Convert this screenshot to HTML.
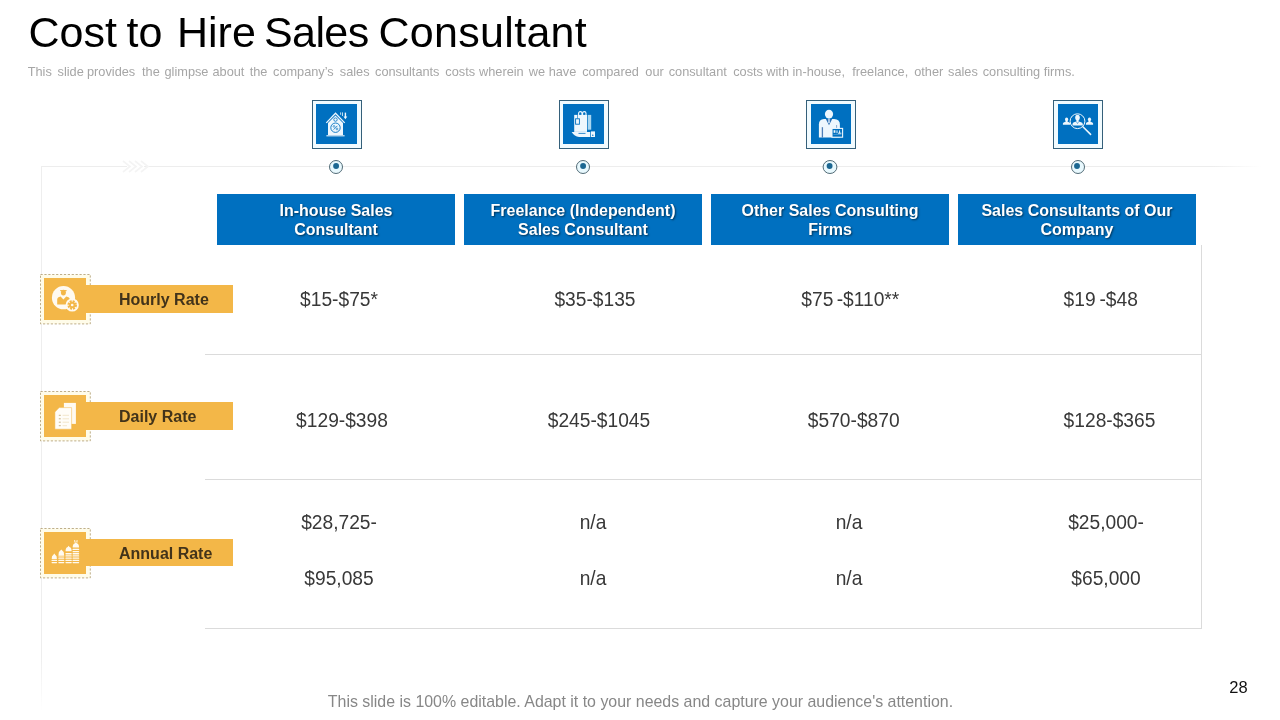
<!DOCTYPE html>
<html lang="en">
<head>
<meta charset="utf-8">
<title>Cost to Hire Sales Consultant</title>
<style>
html,body{margin:0;padding:0;}
body{width:1280px;height:720px;position:relative;overflow:hidden;background:#fff;font-family:"Liberation Sans",Arial,sans-serif;}
.abs{position:absolute;}
#title{left:28.5px;top:7.5px;font-size:43px;line-height:48px;color:#000;white-space:nowrap;}
#title span{position:absolute;top:0;white-space:pre;}
#sub{left:28px;top:64px;font-size:12.75px;line-height:16px;color:#a6a6a6;white-space:nowrap;}
#sub span{position:absolute;top:0;white-space:pre;}
.hl{background:#dbdbdb;height:1px;}
.vl{background:#dbdbdb;width:1px;}
.hdr{top:194px;width:238px;height:51px;padding-top:1px;box-sizing:border-box;background:#0070c0;color:#fff;font-weight:bold;font-size:16px;line-height:19px;text-align:center;display:flex;align-items:center;justify-content:center;text-shadow:1px 1px 2px rgba(0,0,0,.55);}
.ibox{top:100px;width:48px;height:47px;border:1px solid #35607a;background:#f1fbff;}
.ibox svg{position:absolute;left:3px;top:3px;width:41px;height:40px;background:#0070c0;display:block;}
.ibox.b svg{left:4px;width:40px;}
.dot{top:159px;width:13px;height:13px;border:1px solid #2d5f86;border-radius:50%;background:#fff;}
.dot i{position:absolute;left:3px;top:3px;width:7px;height:7px;border-radius:50%;background:#1a6aa8;display:block;}
.val{font-size:19.2px;line-height:22px;color:#383838;white-space:nowrap;transform:translateX(-50%) scaleY(1.035);transform-origin:50% 0;}
.lab{left:86px;width:146.7px;height:27.5px;background:#f3b748;}
.labt{font-weight:bold;font-size:16px;line-height:29px;color:#42331a;white-space:nowrap;}
.sq{left:44px;width:42px;height:42px;background:#f3b748;}
.sq svg{display:block;width:42px;height:42px;}
.dash{left:40px;}
#foot{left:327.8px;top:691.5px;font-size:15.93px;line-height:20px;color:#878787;white-space:nowrap;}
#pn{left:1229.3px;top:677px;font-size:16.5px;line-height:20px;color:#111;}
</style>
</head>
<body>
<div id="title" class="abs"><span style="left:0">Cost </span><span style="left:98px">to </span><span style="left:148.5px">Hire </span><span style="left:235.5px;letter-spacing:-0.6px">Sales </span><span style="left:350px;letter-spacing:0.3px">Consultant</span></div>
<div id="sub" class="abs"><span style="left:-0.3px">This </span><span style="left:29.5px">slide </span><span style="left:59.0px">provides </span><span style="left:114.0px">the </span><span style="left:136.5px">glimpse </span><span style="left:184.5px">about </span><span style="left:221.7px">the </span><span style="left:245.0px">company’s </span><span style="left:311.8px">sales </span><span style="left:347.0px">consultants </span><span style="left:417.3px">costs </span><span style="left:451.0px">wherein </span><span style="left:500.7px">we </span><span style="left:520.7px">have </span><span style="left:554.2px">compared </span><span style="left:617.3px">our </span><span style="left:640.7px">consultant </span><span style="left:705.2px">costs </span><span style="left:738.3px">with </span><span style="left:764.5px">in-house, </span><span style="left:824.2px">freelance, </span><span style="left:886.2px">other </span><span style="left:920.0px">sales </span><span style="left:954.7px">consulting </span><span style="left:1015.7px">firms. </span></div>

<!-- frame lines -->
<div class="abs hl" style="left:41px;top:166px;width:1220px;background:linear-gradient(to right,#ededed 0,#ededed 96%,#fff 100%);"></div>
<div class="abs vl" style="left:41px;top:166px;height:545px;background:linear-gradient(to bottom,#eee 0,#eee 90%,#fff 100%);"></div>
<div class="abs hl" style="left:205px;top:354px;width:997px;"></div>
<div class="abs hl" style="left:205px;top:479px;width:997px;"></div>
<div class="abs hl" style="left:205px;top:628px;width:997px;"></div>
<div class="abs vl" style="left:1201px;top:245px;height:384px;"></div>

<svg class="abs" style="left:120px;top:158px;" width="34" height="18" viewBox="0 0 34 18"><rect x="7" y="7" width="17" height="3" fill="#fff"/><path d="M3 3L10 8.5L3 14M9 3L16 8.5L9 14M15 3L22 8.5L15 14M21 3L28 8.5L21 14" fill="none" stroke="#f4f4f4" stroke-width="1.6"/></svg>
<!-- icon boxes -->
<div class="abs ibox" style="left:312px;"><svg viewBox="0 0 41 40">
<path d="M12 19V31H27V19L19.5 11.4Z" fill="#eef7fd"/>
<path d="M10.3 18.9L19.5 9.3L28.7 18.9" fill="none" stroke="#eef7fd" stroke-width="1.3"/>
<path d="M10.4 31.8H28.6" stroke="#eef7fd" stroke-width="1.1"/>
<circle cx="19.5" cy="23.7" r="4.7" fill="none" stroke="#0070c0" stroke-width="0.9"/>
<path d="M17.6 25.6L21.4 21.8" stroke="#0070c0" stroke-width="0.8"/>
<circle cx="18" cy="22.4" r="0.9" fill="none" stroke="#0070c0" stroke-width="0.6"/>
<circle cx="21" cy="25" r="0.9" fill="none" stroke="#0070c0" stroke-width="0.6"/>
<circle cx="19.5" cy="15.6" r="1.7" fill="none" stroke="#0070c0" stroke-width="0.8"/>
<path d="M29.4 8.6V13.2" stroke="#eef7fd" stroke-width="1.4"/>
<path d="M27.5 12.4H31.3L29.4 15.2Z" fill="#eef7fd"/>
<path d="M24.6 8.4V10.8M26.5 8.4V12" stroke="#eef7fd" stroke-width="0.8"/>
</svg></div>
<div class="abs ibox" style="left:559px;"><svg viewBox="0 0 41 40">
<rect x="11.2" y="10.9" width="12.8" height="17" fill="#eef7fd"/>
<rect x="24.7" y="10.9" width="3.5" height="14.8" fill="#a9d6f0"/>
<path d="M15.6 10.9V9.3a1.7 1.7 0 0 1 3.4 0V10.9M19.6 10.9V9.3a1.7 1.7 0 0 1 3.4 0V10.9" fill="none" stroke="#eef7fd" stroke-width="1.1"/>
<path d="M14.5 11V14.8" stroke="#0070c0" stroke-width="0.6"/>
<rect x="12.6" y="14.8" width="3.8" height="5.4" fill="#eef7fd" stroke="#0070c0" stroke-width="0.9"/>
<path d="M8.6 28H27.2V33H16Q11.5 32.5 8.6 28Z" fill="#eef7fd"/>
<path d="M15.5 29.4H22.5" stroke="#0070c0" stroke-width="0.8"/>
<rect x="27.9" y="27.4" width="4.1" height="5.6" fill="#eef7fd"/>
<circle cx="29.8" cy="31.2" r="0.7" fill="#0070c0"/>
</svg></div>
<div class="abs ibox b" style="left:806px;"><svg viewBox="0 0 40 40">
<ellipse cx="18" cy="10.1" rx="4.1" ry="4.3" fill="#eef7fd"/>
<path d="M7.9 33.6V20.5Q7.9 15.4 13 15.1H23.2Q28.9 15.4 28.9 20.5V33.6Z" fill="#eef7fd"/>
<path d="M14.8 14.9L18 21.2L21.2 14.9Z" fill="#2b6fb5"/>
<path d="M17.45 14.6H18.55L18.7 18.4L18 19.6L17.3 18.4Z" fill="#eef7fd"/>
<path d="M11.4 23.2V33.6" stroke="#4f7fb8" stroke-width="1.3"/>
<path d="M25.6 21V24" stroke="#5b8dc0" stroke-width="0.7"/>
<rect x="21" y="24.4" width="10.6" height="8.8" fill="#0070c0" stroke="#eef7fd" stroke-width="1.1"/>
<rect x="22.6" y="26.2" width="1.8" height="2.6" fill="#eef7fd"/>
<path d="M26 26.4V29.2M28.6 26.4V29.2M27 29.2H30.4" stroke="#eef7fd" stroke-width="1"/>
<path d="M22.4 30.6H30.4" stroke="#eef7fd" stroke-width="0.5" opacity=".6"/>
</svg></div>
<div class="abs ibox b" style="left:1053px;"><svg viewBox="0 0 40 40">
<circle cx="19.5" cy="17.2" r="7.4" fill="none" stroke="#eef7fd" stroke-width="1"/>
<path d="M24.9 22.7L32.6 30.4" stroke="#eef7fd" stroke-width="1.5" stroke-linecap="round"/>
<ellipse cx="19.5" cy="13.6" rx="2.3" ry="2.9" fill="#eef7fd"/>
<path d="M14.5 21.5V20Q14.5 18.3 16.6 18L18.4 17.6V16H20.6V17.6L22.4 18Q24.8 18.3 24.8 20V21.5Z" fill="#eef7fd"/>
<path d="M18.3 17.7L19.5 19.6L20.7 17.7" fill="none" stroke="#0070c0" stroke-width="0.5"/>
<ellipse cx="8.6" cy="15.4" rx="1.6" ry="1.8" fill="#eef7fd"/>
<path d="M4.9 20.7V19.6Q4.9 18.2 7.6 17.8V16.6H9.6V17.8Q12.2 18.2 12.2 19.6V20.7Z" fill="#eef7fd"/>
<ellipse cx="31.5" cy="15.4" rx="1.6" ry="1.8" fill="#eef7fd"/>
<path d="M27.9 20.7V19.6Q27.9 18.2 30.5 17.8V16.6H32.5V17.8Q35.1 18.2 35.1 19.6V20.7Z" fill="#eef7fd"/>
</svg></div>
<svg class="abs" style="left:326px;top:157px;" width="20" height="20" viewBox="0 0 20 20"><ellipse cx="10" cy="10" rx="6.5" ry="6.5" fill="#e9f9fe" stroke="#35515e" stroke-width="0.85"/><circle cx="10.1" cy="8.95" r="2.95" fill="#1c6792"/></svg>
<svg class="abs" style="left:572.9px;top:157px;" width="20" height="20" viewBox="0 0 20 20"><ellipse cx="10" cy="10" rx="6.5" ry="6.5" fill="#e9f9fe" stroke="#35515e" stroke-width="0.85"/><circle cx="10.1" cy="8.95" r="2.95" fill="#1c6792"/></svg>
<svg class="abs" style="left:820.4px;top:157px;" width="20" height="20" viewBox="0 0 20 20"><ellipse cx="10" cy="10" rx="6.8999999999999995" ry="6.5" fill="#e9f9fe" stroke="#35515e" stroke-width="0.85"/><circle cx="9.6" cy="8.95" r="2.95" fill="#1c6792"/></svg>
<svg class="abs" style="left:1068px;top:157px;" width="20" height="20" viewBox="0 0 20 20"><ellipse cx="10" cy="10" rx="6.5" ry="6.5" fill="#e9f9fe" stroke="#35515e" stroke-width="0.85"/><circle cx="9" cy="8.95" r="2.95" fill="#1c6792"/></svg>

<!-- headers -->
<div class="abs hdr" style="left:217px;"><span>In-house Sales<br>Consultant</span></div>
<div class="abs hdr" style="left:464px;"><span>Freelance (Independent)<br>Sales Consultant</span></div>
<div class="abs hdr" style="left:711px;"><span>Other Sales Consulting<br>Firms</span></div>
<div class="abs hdr" style="left:958px;"><span>Sales Consultants of Our<br>Company</span></div>

<!-- row labels -->
<svg class="abs dash" style="top:274px;" width="51" height="51" viewBox="0 0 51 51"><rect x="0.5" y="0.5" width="49.8" height="49.4" fill="#fffce9" stroke="#ad9a6e" stroke-width="0.8" stroke-dasharray="2.2 1.7"/></svg>
<div class="abs sq" style="top:278px;"><svg viewBox="0 0 42 42">
<circle cx="19.5" cy="19.7" r="11.6" fill="#fffaf0"/>
<ellipse cx="19.4" cy="14.6" rx="2.5" ry="2.9" fill="#f3b748"/>
<path d="M16.2 12.6H22.6" stroke="#f3b748" stroke-width="1.1"/>
<path d="M13.2 26.6V21.5Q13.2 19 16.6 18.4L19.4 21.5L22.2 18.4Q25.8 19 25.8 21.5V26.6Z" fill="#f3b748"/>
<circle cx="28.2" cy="27" r="6.6" fill="#fffaf0"/>
<circle cx="28.2" cy="27" r="3.6" fill="none" stroke="#f3b748" stroke-width="2.4" stroke-dasharray="1.9 0.93"/>
<circle cx="28.2" cy="27" r="3.2" fill="#f3b748"/>
<circle cx="28.2" cy="27" r="1.3" fill="#fffaf0"/>
</svg></div>
<div class="abs lab" style="top:285px;"></div>
<div class="abs labt" style="left:119px;top:285px;">Hourly Rate</div>

<svg class="abs dash" style="top:391px;" width="51" height="51" viewBox="0 0 51 51"><rect x="0.5" y="0.5" width="49.8" height="49.4" fill="#fffce9" stroke="#ad9a6e" stroke-width="0.8" stroke-dasharray="2.2 1.7"/></svg>
<div class="abs sq" style="top:395px;"><svg viewBox="0 0 42 42">
<rect x="19.9" y="7.9" width="12" height="21" fill="#fffaf0"/>
<path d="M15.2 12.6H27.6V34.2H10.9V17Z" fill="#fffdf8" stroke="#f3b748" stroke-width="0.5"/>
<path d="M14.8 20.3H16.8M14.8 23.8H16.8M14.8 27.2H16.8M14.8 30.7H16.8" stroke="#c9b68a" stroke-width="1"/>
<path d="M18.6 20.3H25M18.6 23.8H25M18.6 27.2H25M18.6 30.7H23" stroke="#ecdcb8" stroke-width="0.7"/>
</svg></div>
<div class="abs lab" style="top:402px;"></div>
<div class="abs labt" style="left:119px;top:402px;">Daily Rate</div>

<svg class="abs dash" style="top:528px;" width="51" height="51" viewBox="0 0 51 51"><rect x="0.5" y="0.5" width="49.8" height="49.4" fill="#fffce9" stroke="#ad9a6e" stroke-width="0.8" stroke-dasharray="2.2 1.7"/></svg>
<div class="abs sq" style="top:532px;"><svg viewBox="0 0 42 42">
<path d="M7.7 27.1Q7.5 23.7 9.4 22.8L10.3 21.6L11.2 22.8Q13.1 23.7 12.9 27.1Z" fill="#fffaf0"/><rect x="7.5" y="29.90" width="5.6" height="1.3" rx="0.6" fill="#fffaf0"/><rect x="7.5" y="27.70" width="5.6" height="1.3" rx="0.6" fill="#fffaf0"/>
<path d="M14.5 22.9Q14.3 19.5 16.4 18.6L17.3 17.4L18.2 18.6Q20.3 19.5 20.1 22.9Z" fill="#fffaf0"/><rect x="14.3" y="29.90" width="6.0" height="1.3" rx="0.6" fill="#fffaf0"/><rect x="14.3" y="27.70" width="6.0" height="1.3" rx="0.6" fill="#fffaf0"/><rect x="14.3" y="25.50" width="6.0" height="1.3" rx="0.6" fill="#fffaf0"/><rect x="14.3" y="23.30" width="6.0" height="1.3" rx="0.6" fill="#fffaf0"/>
<path d="M21.6 19.2Q21.4 15.8 23.7 14.9L24.6 13.7L25.5 14.9Q27.8 15.8 27.6 19.2Z" fill="#fffaf0"/><rect x="21.4" y="29.90" width="6.4" height="1.3" rx="0.6" fill="#fffaf0"/><rect x="21.4" y="27.70" width="6.4" height="1.3" rx="0.6" fill="#fffaf0"/><rect x="21.4" y="25.50" width="6.4" height="1.3" rx="0.6" fill="#fffaf0"/><rect x="21.4" y="23.30" width="6.4" height="1.3" rx="0.6" fill="#fffaf0"/><rect x="21.4" y="21.10" width="6.4" height="1.3" rx="0.6" fill="#fffaf0"/>
<path d="M28.7 15.5Q28.5 12.1 31.0 11.2L31.9 10.0L32.8 11.2Q35.2 12.1 35.0 15.5Z" fill="#fffaf0"/><rect x="28.5" y="29.90" width="6.7" height="1.3" rx="0.6" fill="#fffaf0"/><rect x="28.5" y="27.70" width="6.7" height="1.3" rx="0.6" fill="#fffaf0"/><rect x="28.5" y="25.50" width="6.7" height="1.3" rx="0.6" fill="#fffaf0"/><rect x="28.5" y="23.30" width="6.7" height="1.3" rx="0.6" fill="#fffaf0"/><rect x="28.5" y="21.10" width="6.7" height="1.3" rx="0.6" fill="#fffaf0"/><rect x="28.5" y="18.90" width="6.7" height="1.3" rx="0.6" fill="#fffaf0"/><rect x="28.5" y="16.70" width="6.7" height="1.3" rx="0.6" fill="#fffaf0"/>
<path d="M30.4 10.6L30.6 8L31.4 10.2M33.3 10.6L33.1 8.2L32.4 10.2" stroke="#fffaf0" stroke-width="0.6" fill="none"/>
</svg></div>
<div class="abs lab" style="top:539px;height:26.7px;"></div>
<div class="abs labt" style="left:119px;top:539px;">Annual Rate</div>

<!-- values -->
<div class="abs val" style="left:339px;top:288px;">$15-$75*</div>
<div class="abs val" style="left:595px;top:288px;">$35-$135</div>
<div class="abs val" style="left:850.3px;top:288px;word-spacing:-2px;">$75 -$110**</div>
<div class="abs val" style="left:1100.7px;top:288px;word-spacing:-1.5px;">$19 -$48</div>

<div class="abs val" style="left:342px;top:409px;">$129-$398</div>
<div class="abs val" style="left:599px;top:409px;">$245-$1045</div>
<div class="abs val" style="left:853.7px;top:409px;">$570-$870</div>
<div class="abs val" style="left:1109.5px;top:409px;">$128-$365</div>

<div class="abs val" style="left:339px;top:511px;">$28,725-</div>
<div class="abs val" style="left:593px;top:511px;">n/a</div>
<div class="abs val" style="left:849px;top:511px;">n/a</div>
<div class="abs val" style="left:1106px;top:511px;">$25,000-</div>

<div class="abs val" style="left:339px;top:567px;">$95,085</div>
<div class="abs val" style="left:593px;top:567px;">n/a</div>
<div class="abs val" style="left:849px;top:567px;">n/a</div>
<div class="abs val" style="left:1106px;top:567px;">$65,000</div>

<div id="foot" class="abs">This slide is 100% editable. Adapt it to your needs and capture your audience's attention.</div>
<div id="pn" class="abs">28</div>
</body>
</html>
